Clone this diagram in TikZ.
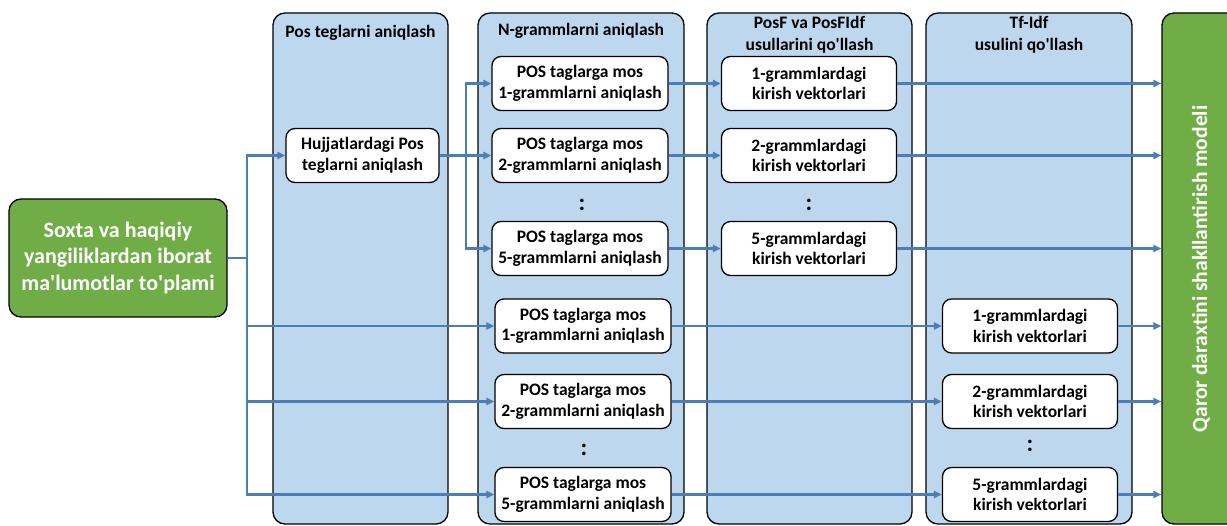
\documentclass[tikz,border=0pt]{standalone}
\usepackage{fontspec}
\setmainfont{Carlito}
\usetikzlibrary{arrows.meta}
\definecolor{lanefill}{HTML}{BDD7EE}
\definecolor{grn}{HTML}{70AD47}
\definecolor{conncol}{HTML}{4A7EB5}
\begin{document}
\begin{tikzpicture}[x=1pt,y=-1pt,
  lanebox/.style={draw=black, line width=1.3pt, fill=lanefill, rounded corners=12pt, inner sep=0pt},
  greenbox/.style={draw=black, line width=1.3pt, fill=grn, rounded corners=12pt, inner sep=0pt},
  lanetitle/.style={align=center, inner sep=0pt, font=\bfseries\fontsize{17.5}{21.5}\selectfont},
  wbox/.style={draw=black, line width=1.3pt, fill=white, rounded corners=9pt, minimum width=176pt, minimum height=54pt, align=center, inner sep=0pt, font=\bfseries\fontsize{17.5}{20.5}\selectfont},
  dotsn/.style={inner sep=0pt, font=\bfseries\fontsize{24}{24}\selectfont},
  arr/.style={draw=conncol, line width=2.2pt, -{Triangle[length=8pt,width=7pt]}},
  ln/.style={draw=conncol, line width=2.2pt}
]
\useasboundingbox (0,0) rectangle (1227,526);
% lanes
\node[lanebox, minimum width=175pt, minimum height=511pt] (lane1) at (360.5,268.5) {};
\node[lanebox, minimum width=206pt, minimum height=511pt] (lane2) at (581,268.5) {};
\node[lanebox, minimum width=205pt, minimum height=511pt] (lane3) at (809.5,268.5) {};
\node[lanebox, minimum width=206pt, minimum height=511pt] (lane4) at (1029,268.5) {};
\node[greenbox, minimum width=90pt, minimum height=511pt] (R) at (1207,268.5) {};
\node[rotate=90, inner sep=0pt, text=white, font=\bfseries\fontsize{21.5}{24}\selectfont] (Rt) at (1201,269) {Qaror daraxtini shakllantirish modeli};
% titles
\node[lanetitle] (t1) at (360.5,33) {Pos teglarni aniqlash};
\node[lanetitle] (t2) at (581,31) {N-grammlarni aniqlash};
\node[lanetitle] (t3) at (809.5,34.5) {PosF va PosFIdf\\usullarini qo\textquotesingle llash};
\node[lanetitle] (t4) at (1029,34.5) {Tf-Idf\\usulini qo\textquotesingle llash};
% left source
\node[draw=black, line width=1.3pt, fill=grn, rounded corners=12pt, minimum width=218pt, minimum height=118pt, align=center, inner sep=0pt, text=white, font=\bfseries\fontsize{22}{26.7}\selectfont] (L) at (118,258) {Soxta va haqiqiy\\yangiliklardan iborat\\ma\textquotesingle lumotlar to\textquotesingle plami};
% boxes
\node[wbox, minimum width=153pt] (H) at (362.5,155.5) {Hujjatlardagi Pos\\teglarni aniqlash};
\node[wbox] (A1) at (580,83.5) {POS taglarga mos\\1-grammlarni aniqlash};
\node[wbox] (A2) at (580,155.5) {POS taglarga mos\\2-grammlarni aniqlash};
\node[dotsn] (Ad) at (582,205) {:};
\node[wbox] (A5) at (580,248.5) {POS taglarga mos\\5-grammlarni aniqlash};
\node[wbox, minimum width=175pt] (C1) at (809,83.5) {1-grammlardagi\\kirish vektorlari};
\node[wbox, minimum width=175pt] (C2) at (809,155.5) {2-grammlardagi\\kirish vektorlari};
\node[dotsn] (Cd) at (809,205) {:};
\node[wbox, minimum width=175pt] (C5) at (809,248.5) {5-grammlardagi\\kirish vektorlari};
\node[wbox] (B1) at (583,326) {POS taglarga mos\\1-grammlarni aniqlash};
\node[wbox] (B2) at (583,401.5) {POS taglarga mos\\2-grammlarni aniqlash};
\node[dotsn] (Bd) at (584,450) {:};
\node[wbox] (B5) at (583,494.5) {POS taglarga mos\\5-grammlarni aniqlash};
\node[wbox, minimum width=175pt] (D1) at (1030,326) {1-grammlardagi\\kirish vektorlari};
\node[wbox, minimum width=175pt] (D2) at (1030,401.5) {2-grammlardagi\\kirish vektorlari};
\node[dotsn] (Dd) at (1030,446) {:};
\node[wbox, minimum width=175pt] (D5) at (1030,494.5) {5-grammlardagi\\kirish vektorlari};
% junctions
\coordinate (ja) at (247,258);
\coordinate (jb) at (466,155.5);
% connectors
\draw[ln] (L.east) -- (ja);
\draw[arr] (ja) |- (H.west);
\draw[arr] (ja) |- (B1.west);
\draw[arr] (ja) |- (B2.west);
\draw[arr] (ja) |- (B5.west);
\draw[arr] (H.east) -- (A2.west);
\draw[arr] (jb) |- (A1.west);
\draw[arr] (jb) |- (A5.west);
\draw[arr] (A1.east) -- (C1.west);
\draw[arr] (A2.east) -- (C2.west);
\draw[arr] (A5.east) -- (C5.west);
\draw[arr] (C1.east) -- (C1.east -| R.west);
\draw[arr] (C2.east) -- (C2.east -| R.west);
\draw[arr] (C5.east) -- (C5.east -| R.west);
\draw[arr] (B1.east) -- (D1.west);
\draw[arr] (B2.east) -- (D2.west);
\draw[arr] (B5.east) -- (D5.west);
\draw[arr] (D1.east) -- (D1.east -| R.west);
\draw[arr] (D2.east) -- (D2.east -| R.west);
\draw[arr] (D5.east) -- (D5.east -| R.west);
\end{tikzpicture}
\end{document}
